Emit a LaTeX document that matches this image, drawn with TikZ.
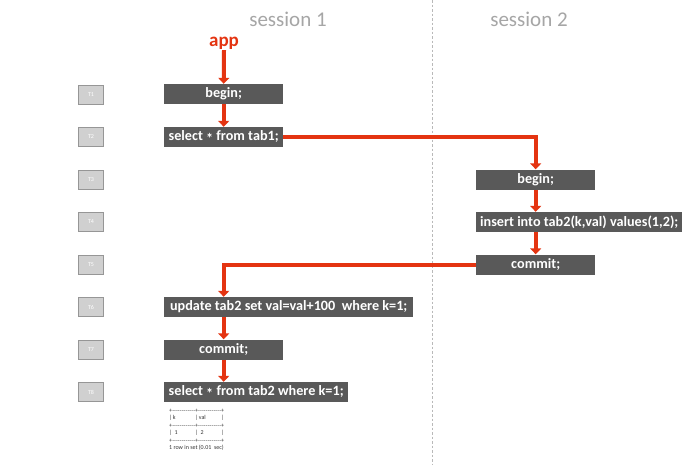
\documentclass[tikz,border=0pt]{standalone}
\usepackage{fontspec}
\setmainfont{Carlito}
\usetikzlibrary{arrows.meta}
\definecolor{myred}{RGB}{228,52,17}
\definecolor{boxgray}{RGB}{89,89,89}
\definecolor{hdrgray}{RGB}{166,166,166}
\definecolor{tfill}{RGB}{208,208,208}
\definecolor{tdraw}{RGB}{150,150,150}
\definecolor{dashgray}{RGB}{185,185,185}
\newcommand{\midstar}{\raisebox{-0.4ex}{*}}
\begin{document}
\begin{tikzpicture}[x=1pt,y=-1pt,
 stmt/.style={fill=boxgray, text=white, font=\bfseries\fontsize{14.2}{16}\selectfont, minimum height=20pt, inner sep=0pt, anchor=west},
 tlab/.style={fill=tfill, draw=tdraw, line width=0.8pt, text=white, font=\fontsize{6}{7}\selectfont, minimum width=25pt, minimum height=19pt, inner sep=0pt},
 hdr/.style={text=hdrgray, font=\fontsize{21}{24}\selectfont, anchor=base},
 flow/.style={draw=myred, line width=4pt, -{Triangle[width=11pt,length=6pt]}},
 tbl/.style={font=\fontsize{6}{7}\selectfont, text=black!80, inner sep=0pt, anchor=west}]
\fill[white] (0,0) rectangle (695,464);
\useasboundingbox (0,0) rectangle (695,464);
% divider
\coordinate (dtop) at (432,0);
\coordinate (dbot) at (432,464);
\draw[dashgray, line width=0.8pt, dash pattern=on 2.5pt off 2pt] (dtop) -- (dbot);
% headers
\node[hdr] (h1) at (288,26) {session 1};
\node[hdr] (h2) at (529,26) {session 2};
\node[text=myred, font=\bfseries\fontsize{19}{22}\selectfont, anchor=base, inner sep=1pt] (app) at (224,46) {app};
% time labels
\foreach \i in {1,...,8} {
  \node[tlab] (t\i) at (91,{94.5+(\i-1)*42.5}) {T\i};
}
% session 1
\node[stmt, minimum width=119pt] (beg1) at (164,94) {begin;};
\node[stmt, minimum width=119pt] (sel1) at (164,137) {select \midstar{} from tab1;};
\node[stmt, minimum width=249pt] (upd) at (164,307) {update tab2 set val=val+100\ \ where k=1;};
\node[stmt, minimum width=119pt] (com1) at (164,349.5) {commit;};
\node[stmt, minimum width=184pt] (sel2) at (164,392) {select \midstar{} from tab2 where k=1;};
% session 2
\node[stmt, minimum width=119pt] (beg2) at (476,179.5) {begin;};
\node[stmt, minimum width=206pt] (ins) at (476,222) {insert into tab2(k,val) values(1,2);};
\node[stmt, minimum width=119pt] (com2) at (476,264.5) {commit;};
% result table
\node[tbl] (r1) at (169,411) {\makebox[26pt][l]{+\xleaders\hbox{-}\hfill}\makebox[26pt][l]{+\xleaders\hbox{-}\hfill}+};
\node[tbl] (r2) at (169,418) {\makebox[26pt][l]{|\,k}\makebox[26pt][l]{|\,val}|};
\node[tbl] (r3) at (169,426) {\makebox[26pt][l]{+\xleaders\hbox{-}\hfill}\makebox[26pt][l]{+\xleaders\hbox{-}\hfill}+};
\node[tbl] (r4) at (169,433) {\makebox[26pt][l]{|\ \ 1}\makebox[26pt][l]{|\ \ 2}|};
\node[tbl] (r5) at (169,441) {\makebox[26pt][l]{+\xleaders\hbox{-}\hfill}\makebox[26pt][l]{+\xleaders\hbox{-}\hfill}+};
\node[tbl] (r6) at (169,448) {1 row in set (0.01\ \ sec)};
% connectors
\draw[flow] (app.south) -- (beg1.north);
\draw[flow] (beg1.south) -- (sel1.north);
\draw[flow] (sel1.east) -- (sel1.east -| beg2.north) -- (beg2.north);
\draw[flow] (beg2.south) -- (ins.north -| beg2.south);
\draw[flow] (ins.south -| com2.north) -- (com2.north);
\draw[flow] (com2.west) -- (com2.west -| com1.north) -- (upd.north -| com1.north);
\draw[flow] (upd.south -| com1.north) -- (com1.north);
\draw[flow] (com1.south) -- (sel2.north -| com1.south);
\end{tikzpicture}
\end{document}
